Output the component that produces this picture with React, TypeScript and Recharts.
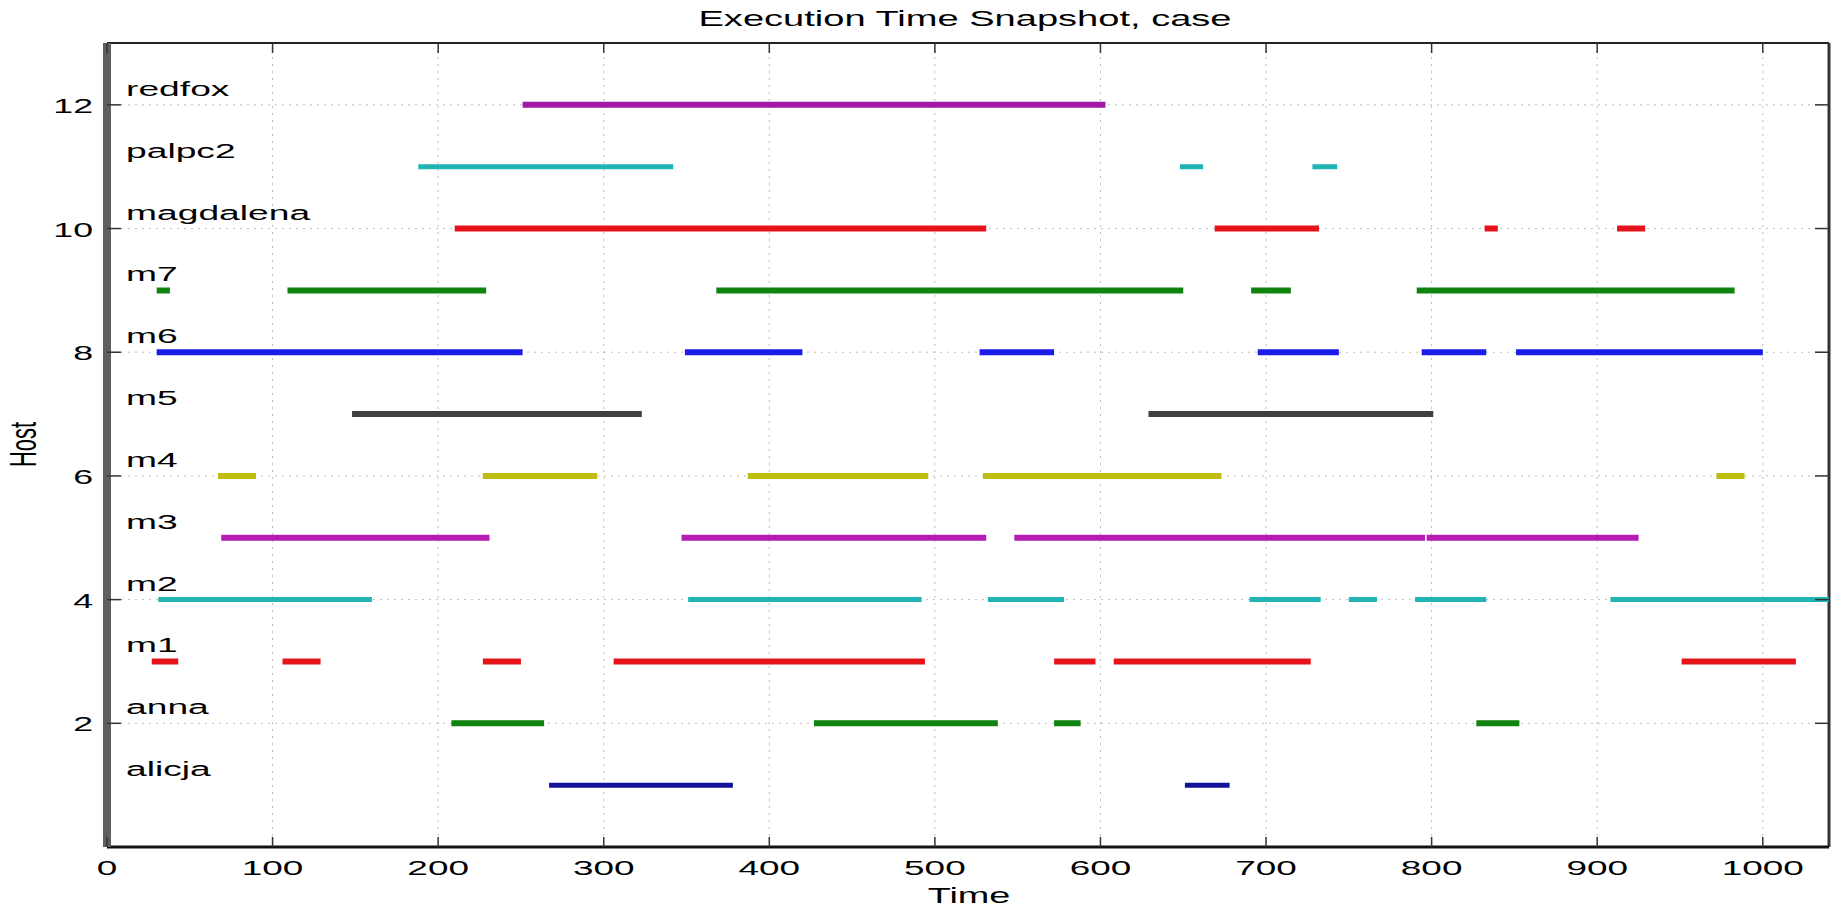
import React from 'react';
import { ComposedChart, Line, XAxis, YAxis, CartesianGrid, Scatter, ReferenceLine } from 'recharts';

// ---- data ----
const hostNames = ['alicja', 'anna', 'm1', 'm2', 'm3', 'm4', 'm5', 'm6', 'm7', 'magdalena', 'palpc2', 'redfox'];
const hostLevels = [1, 2, 3, 4, 5, 6, 7, 8, 9, 10, 11, 12];
const hostColors = ['#12129c', '#10820f', '#e5141a', '#20b4b4', '#b41cb4', '#bdbd12', '#404040', '#1c1ce8', '#10820f', '#e5141a', '#20b4b4', '#a11aa4'];

const alicjaRuns = [[267, 378], [651, 678]];
const annaRuns = [[208, 264], [427, 538], [572, 588], [827, 853]];
const m1Runs = [[27, 43], [106, 129], [227, 250], [306, 494], [572, 597], [608, 727], [951, 1020]];
const m2Runs = [[31, 160], [351, 492], [532, 578], [690, 733], [750, 767], [790, 833], [908, 1040]];
const m3Runs = [[69, 231], [347, 531], [548, 796], [797, 925]];
const m4Runs = [[67, 90], [227, 296], [387, 496], [529, 673], [972, 989]];
const m5Runs = [[148, 323], [629, 801]];
const m6Runs = [[30, 251], [349, 420], [527, 572], [695, 744], [794, 833], [851, 1000]];
const m7Runs = [[30, 38], [109, 229], [368, 650], [691, 715], [791, 983]];
const magdalenaRuns = [[210, 531], [669, 732], [832, 840], [912, 929]];
const palpc2Runs = [[188, 342], [648, 662], [728, 743]];
const redfoxRuns = [[251, 603]];

const allRuns = [alicjaRuns, annaRuns, m1Runs, m2Runs, m3Runs, m4Runs, m5Runs, m6Runs, m7Runs, magdalenaRuns, palpc2Runs, redfoxRuns];

const xTicks = [0, 100, 200, 300, 400, 500, 600, 700, 800, 900, 1000];
const yTicks = [2, 4, 6, 8, 10, 12];
const xDomain = [0, 1040];
const yDomain = [0, 13];
const labelX = 11.5;

const titleText = 'Execution Time Snapshot, case';
const xLabelText = 'Time';
const yLabelText = 'Host';

// ---- layout constants ----
const W = 1842;
const H = 907;
const PLOT_LEFT = 107;
const PLOT_TOP = 43;
const PLOT_RIGHT = 1829;
const PLOT_BOTTOM = 847;
const Y_AXIS_W = 60;
const X_AXIS_H = 40;
const FONT = 'Liberation Sans, Arial, Helvetica, sans-serif';

function buildSeries(runs: number[][], level: number) {
  const out: { x: number; y: number | null }[] = [];
  runs.forEach((r, i) => {
    if (i > 0) out.push({ x: runs[i - 1][1], y: null });
    out.push({ x: r[0], y: level });
    out.push({ x: r[1], y: level });
  });
  return out;
}

const labelData = hostNames.map((n, i) => ({ x: labelX, y: hostLevels[i], name: n }));

const XTick = (props: any) => {
  const { x, y, payload } = props;
  return (
    <g>
      <line x1={x} x2={x} y1={PLOT_BOTTOM} y2={PLOT_BOTTOM - 10} stroke="#333" strokeWidth={1.5} />
      <line x1={x} x2={x} y1={PLOT_TOP} y2={PLOT_TOP + 10} stroke="#333" strokeWidth={1.5} />
      <text
        transform={`translate(${x},${y + 28}) scale(1.76,1)`}
        textAnchor="middle"
        fontSize={21}
        fontFamily={FONT}
        fill="#000"
      >
        {payload.value}
      </text>
    </g>
  );
};

const YTick = (props: any) => {
  const { x, y, payload } = props;
  return (
    <g>
      <line x1={PLOT_LEFT} x2={PLOT_LEFT + 14} y1={y} y2={y} stroke="#333" strokeWidth={1.5} />
      <line x1={PLOT_RIGHT} x2={PLOT_RIGHT - 14} y1={y} y2={y} stroke="#333" strokeWidth={1.5} />
      <text
        transform={`translate(${x - 14},${y + 8}) scale(1.7,1)`}
        textAnchor="end"
        fontSize={21}
        fontFamily={FONT}
        fill="#000"
      >
        {payload.value}
      </text>
    </g>
  );
};

const HostLabel = (props: any) => {
  const { cx, cy, payload } = props;
  if (cx == null || cy == null) return null;
  return (
    <text
      transform={`translate(${cx},${cy - 9}) scale(1.86,1)`}
      textAnchor="start"
      fontSize={20}
      fontFamily={FONT}
      fill="#000"
    >
      {payload.name}
    </text>
  );
};

export default function App() {
  return (
    <div style={{ position: 'absolute', left: 0, top: 0, width: W, height: H, background: '#fff' }}>
      <ComposedChart
        width={W}
        height={H}
        margin={{ top: PLOT_TOP, right: W - PLOT_RIGHT, left: PLOT_LEFT - Y_AXIS_W, bottom: H - PLOT_BOTTOM - X_AXIS_H }}
      >
        <CartesianGrid stroke="#bdbdbd" strokeDasharray="2 5" strokeWidth={1} />
        <XAxis
          dataKey="x"
          type="number"
          domain={xDomain}
          ticks={xTicks}
          interval={0}
          allowDataOverflow
          height={X_AXIS_H}
          tickSize={0}
          tickMargin={0}
          tickLine={false}
          axisLine={{ stroke: '#111', strokeWidth: 3 }}
          tick={<XTick />}
        />
        <YAxis
          dataKey="y"
          type="number"
          domain={yDomain}
          ticks={yTicks}
          interval={0}
          allowDataOverflow
          width={Y_AXIS_W}
          tickSize={0}
          tickMargin={0}
          tickLine={false}
          axisLine={{ stroke: '#5f5f5f', strokeWidth: 8 }}
          tick={<YTick />}
        />
        <ReferenceLine y={13} stroke="#222" strokeWidth={2} />
        <ReferenceLine x={1040} stroke="#333" strokeWidth={3} />
        {allRuns.map((runs, i) => (
          <Line
            key={hostNames[i]}
            data={buildSeries(runs, hostLevels[i])}
            dataKey="y"
            type="linear"
            stroke={hostColors[i]}
            strokeWidth={hostNames[i] === 'm2' || hostNames[i] === 'palpc2' || hostNames[i] === 'alicja' ? 5 : 6}
            strokeLinecap="butt"
            dot={false}
            activeDot={false}
            connectNulls={false}
            isAnimationActive={false}
          />
        ))}
        <Scatter data={labelData} dataKey="y" shape={<HostLabel />} isAnimationActive={false} />
      </ComposedChart>
      <svg width={W} height={H} style={{ position: 'absolute', left: 0, top: 0, pointerEvents: 'none' }}>
        <text
          transform={`translate(${(PLOT_LEFT + PLOT_RIGHT) / 2 - 3},26) scale(1.73,1)`}
          textAnchor="middle"
          fontSize={22}
          fontFamily={FONT}
          fill="#000"
        >
          {titleText}
        </text>
        <text
          transform={`translate(969,903) scale(1.72,1)`}
          textAnchor="middle"
          fontSize={22}
          fontFamily={FONT}
          fill="#000"
        >
          {xLabelText}
        </text>
        <text
          transform={`translate(36,444.5) rotate(-90) scale(1,1.72)`}
          textAnchor="middle"
          fontSize={22}
          fontFamily={FONT}
          fill="#000"
        >
          {yLabelText}
        </text>
      </svg>
    </div>
  );
}
